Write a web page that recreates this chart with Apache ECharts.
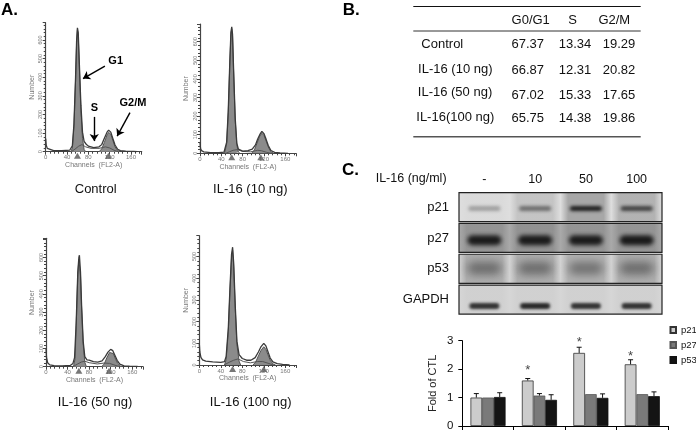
<!DOCTYPE html>
<html><head><meta charset="utf-8">
<style>html,body{margin:0;padding:0;background:#fff}#c{width:696px;height:432px}</style>
<script src="https://cdn.jsdelivr.net/npm/echarts@6/dist/echarts.min.js"></script>
</head><body><div id="c"></div>
<script>
// ---------- Panel A: flow cytometry histograms [channel, count] ----------
const panelNames = ['Control', 'IL-16 (10 ng)', 'IL-16 (50 ng)', 'IL-16 (100 ng)'];
const controlEnvelope = [[0,70],[1,35],[3,18],[6,10],[15,6],[30,5],[45,8],[48,14],[50,32],[53,150],[56,400],[58,600],[59.5,665],[61,640],[63,480],[66,250],[69,105],[72,55],[76,40],[80,30],[90,22],[100,26],[105,38],[110,72],[115,105],[118,116],[122,105],[126,70],[130,36],[135,13],[140,6],[150,3],[165,1],[172,0]];
const controlG1 = [[47,0],[50,20],[53,135],[56,385],[58,590],[59.5,655],[61,625],[63,465],[66,225],[69,70],[72,12],[75,0]];
const controlG2 = [[100,0],[105,15],[110,50],[115,90],[118,104],[122,94],[126,60],[130,26],[135,6],[140,0]];
const controlS = [[48,0],[55,14],[62,30],[68,38],[75,26],[85,18],[100,18],[112,26],[120,20],[128,8],[136,0]];
const d10Envelope = [[0,60],[1,25],[3,14],[7,8],[20,4],[35,3],[45,6],[47,14],[50,60],[53,230],[56,500],[58,650],[59.5,680],[61,640],[63,450],[66,190],[69,55],[72,22],[80,12],[90,14],[98,22],[104,45],[108,75],[112,100],[116,118],[120,105],[124,75],[128,42],[133,15],[140,5],[150,2],[165,0]];
const d10G1 = [[46,0],[50,50],[53,220],[56,490],[58,640],[59.5,670],[61,630],[63,440],[66,180],[69,45],[72,6],[75,0]];
const d10G2 = [[97,0],[102,18],[107,55],[112,92],[116,108],[120,96],[124,66],[128,34],[133,8],[138,0]];
const d10S = [[48,0],[55,8],[62,16],[70,20],[80,10],[95,8],[108,16],[115,14],[125,5],[134,0]];
const d50Envelope = [[0,100],[1,50],[3,22],[7,10],[15,6],[30,5],[45,7],[50,18],[53,50],[56,240],[59,520],[61,600],[62,612],[64,520],[66,340],[69,140],[72,55],[76,38],[80,36],[88,28],[96,25],[104,32],[110,55],[115,80],[120,95],[124,88],[128,62],[132,35],[137,14],[145,5],[155,3],[170,1]];
const d50G1 = [[51,0],[54,45],[56,225],[59,505],[61,590],[62,600],[64,505],[66,325],[69,125],[72,25],[75,0]];
const d50G2 = [[103,0],[108,14],[113,50],[118,78],[121,84],[125,72],[129,42],[133,18],[138,4],[142,0]];
const d50S = [[50,0],[58,14],[66,26],[72,30],[80,22],[95,15],[108,20],[118,18],[128,8],[138,0]];
const d100Envelope = [[0,100],[1,60],[3,35],[6,24],[12,18],[25,14],[40,12],[47,16],[50,40],[54,170],[57,350],[60,510],[62,543],[64,470],[67,270],[70,110],[74,48],[80,30],[88,22],[96,22],[104,34],[110,60],[115,85],[120,100],[124,88],[128,60],[132,32],[137,14],[145,6],[155,3],[168,0]];
const d100G1 = [[47,0],[50,25],[54,155],[57,335],[60,495],[62,530],[64,455],[67,255],[70,95],[74,18],[77,0]];
const d100G2 = [[100,0],[105,14],[110,42],[115,68],[120,84],[124,72],[128,46],[132,22],[137,5],[142,0]];
const d100S = [[46,0],[55,12],[64,22],[72,28],[82,16],[95,10],[108,16],[118,16],[128,8],[138,0]];
const controlMarks = [[59.5,0],[117.5,0]];
const d10Marks = [[59.5,0],[114,0]];
const d50Marks = [[61,0],[117,0]];
const d100Marks = [[62,0],[120,0]];
const yMaxima = [693, 695, 705, 596];

// ---------- Panel B: table ----------
const tableHeader = ['G0/G1', 'S', 'G2/M'];
const tableRows = ['Control', 'IL-16 (10 ng)', 'IL-16 (50 ng)', 'IL-16(100 ng)'];
const g0g1Values = ['67.37', '66.87', '67.02', '65.75'];
const sValues = ['13.34', '12.31', '15.33', '14.38'];
const g2mValues = ['19.29', '20.82', '17.65', '19.86'];

// ---------- Panel C: blots ----------
const laneLabels = ['-', '10', '50', '100'];
const blotRows = ['p21', 'p27', 'p53', 'GAPDH'];
const p21Band = [0.3, 0.5, 0.95, 0.72];
const p27Band = [0.95, 0.95, 0.95, 0.96];
const p53Band = [0.42, 0.42, 0.4, 0.42];
const gapdhBand = [0.85, 0.9, 0.85, 0.85];
const p21Haze = [0.02, 0.14, 0.3, 0.24];
const p27Haze = [0.16, 0.18, 0.16, 0.16];
const p53Haze = [0.22, 0.22, 0.2, 0.22];
const gapdhHaze = [0.03, 0.03, 0.03, 0.03];

// ---------- Panel C: fold-change bars ----------
const foldCategories = ['-', '10', '50', '100'];
const p21Fold = [1.0, 1.6, 2.57, 2.17];
const p27Fold = [1.0, 1.07, 1.12, 1.12];
const p53Fold = [1.02, 0.92, 0.99, 1.05];
const p21Err = [0.14, 0.07, 0.2, 0.16];
const p27Err = [0, 0.07, 0, 0];
const p53Err = [0.15, 0.18, 0.14, 0.15];
const starHeights = [null, 1.95, 2.93, 2.45];

const FONT = '"Liberation Sans", Arial, sans-serif';
const panels = [
  {env:controlEnvelope,g1:controlG1,g2:controlG2,s:controlS,marks:controlMarks,l:45.7,r:141.7,t:22.7,b:151.7},
  {env:d10Envelope,g1:d10G1,g2:d10G2,s:d10S,marks:d10Marks,l:200,r:296,t:24,b:153.3},
  {env:d50Envelope,g1:d50G1,g2:d50G2,s:d50S,marks:d50Marks,l:46,r:143,t:238.3,b:366.7},
  {env:d100Envelope,g1:d100G1,g2:d100G2,s:d100S,marks:d100Marks,l:199.3,r:296,t:235.7,b:365}
];
const grid = [], xAxis = [], yAxis = [], series = [];
const histGray = '#8b8b8b', axisGray = '#444', labelGray = '#777';
panels.forEach((p, i) => {
  grid.push({left:p.l, top:p.t, width:p.r-p.l, height:p.b-p.t});
  xAxis.push({gridIndex:i, type:'value', min:0, max:180, interval:40,
    name:'Channels  (FL2-A)', nameLocation:'middle', nameGap:9,
    nameTextStyle:{fontSize:7, color:labelGray, fontFamily:FONT},
    axisLine:{lineStyle:{color:axisGray,width:1.2}},
    axisTick:{show:true,length:3,lineStyle:{color:axisGray}},
    minorTick:{show:true,splitNumber:5,length:2,lineStyle:{color:axisGray}},
    axisLabel:{fontSize:6,color:labelGray,margin:3,fontFamily:FONT,showMaxLabel:false},
    splitLine:{show:false}, minorSplitLine:{show:false}});
  yAxis.push({gridIndex:i, type:'value', min:0, max:yMaxima[i], interval:100,
    name:'Number', nameLocation:'middle', nameGap:10,
    nameTextStyle:{fontSize:7, color:labelGray, fontFamily:FONT},
    axisLine:{show:true,lineStyle:{color:axisGray,width:1.2}},
    axisTick:{show:true,length:3,lineStyle:{color:axisGray}},
    minorTick:{show:true,splitNumber:5,length:2,lineStyle:{color:axisGray}},
    axisLabel:{fontSize:5.5,color:labelGray,rotate:90,margin:2,fontFamily:FONT,showMaxLabel:false,
      formatter:v=>v>600?'':String(v)},
    splitLine:{show:false}, minorSplitLine:{show:false}});
  const line = (data, extra) => Object.assign({type:'line', xAxisIndex:i, yAxisIndex:i, data,
    symbol:'none', silent:true, lineStyle:{color:'#555',width:1}}, extra);
  series.push(line(p.g1,{areaStyle:{color:histGray,opacity:1},z:2}));
  series.push(line(p.g2,{areaStyle:{color:histGray,opacity:1},z:2}));
  series.push(line(p.s,{lineStyle:{color:'#555',width:1},z:3}));
  const env = line(p.env,{lineStyle:{color:'#3a3a3a',width:1.3},z:4});
  if (i === 0) {
    env.markLine = {silent:true, symbol:['none','arrow'], symbolSize:7, animation:false,
      lineStyle:{color:'#000',width:1.4,type:'solid'}, label:{show:false},
      data:[
        [{coord:[111,460]},{coord:[70,393]}],
        [{coord:[91,187]},{coord:[91,57]}],
        [{coord:[158,210]},{coord:[134,84]}]
      ]};
  }
  series.push(env);
  series.push({type:'scatter', xAxisIndex:i, yAxisIndex:i, data:p.marks, symbol:'triangle',
    symbolSize:[7,6], symbolOffset:[0,4], clip:false, silent:true,
    itemStyle:{color:'#555'}, z:5});
});

// Blot grid (index 4)
grid.push({left:459, top:191.7, width:203, height:123.3});
xAxis.push({gridIndex:4, type:'category', position:'top', data:laneLabels,
  axisLine:{show:false}, axisTick:{show:false},
  axisLabel:{fontSize:12.5,color:'#111',margin:6,fontFamily:FONT}});
yAxis.push({gridIndex:4, type:'category', inverse:true, data:blotRows,
  axisLine:{show:false}, axisTick:{show:false},
  axisLabel:{fontSize:13,color:'#111',margin:10,fontFamily:FONT}});

const rowBg = ['#dedede','#a9a9a9','#d2d2d2','#d6d6d6'];
const bandGeom = [
  {y:0.05,h:5,w:32,blur:3.5},{y:0.08,h:10,w:34,blur:4},{y:-0.02,h:13,w:34,blur:9},{y:0.22,h:6,w:30,blur:3}
];
const rowRect = (api,row)=>{
  const c=api.coord([0,row]), cw=api.size([1,0])[0], bh=api.size([0,1])[1]-1.8;
  return {x:c[0]-cw/2,y:c[1]-bh/2,width:cw*4,height:bh};
};
series.push({type:'custom', xAxisIndex:4, yAxisIndex:4, silent:true, z:1,
  data:blotRows.map((r,i)=>[0,i]),
  renderItem(params, api){
    const row = api.value(1);
    return {type:'rect', shape:rowRect(api,row), style:{fill:rowBg[row]}};
  }});
const bands = [p21Band,p27Band,p53Band,gapdhBand];
const hazes = [p21Haze,p27Haze,p53Haze,gapdhHaze];
const blotCells = [];
bands.forEach((b,r)=>b.forEach((d,l)=>blotCells.push([l,r,d,hazes[r][l]])));
const OFF = 2000; // the band shape sits off-canvas so that only its blurred shadow shows
series.push({type:'custom', xAxisIndex:4, yAxisIndex:4, silent:true, z:2, data:blotCells,
  renderItem(params, api){
    const l=api.value(0), r=api.value(1), d=api.value(2), hz=api.value(3);
    const c=api.coord([l,r]);
    const cw=api.size([1,0])[0], ch=api.size([0,1])[1]-1.8;
    const g=bandGeom[r];
    const hazeFill=new echarts.graphic.LinearGradient(0,0,1,0,[
      {offset:0,color:'rgba(40,40,40,0)'},{offset:0.15,color:'rgba(40,40,40,'+hz+')'},
      {offset:0.85,color:'rgba(40,40,40,'+hz+')'},{offset:1,color:'rgba(40,40,40,0)'}]);
    return {type:'group',children:[
      {type:'rect',shape:{x:c[0]-cw/2,y:c[1]-ch/2,width:cw,height:ch},style:{fill:hazeFill}},
      {type:'rect',shape:{x:c[0]-g.w/2-OFF,y:c[1]+g.y*ch-g.h/2,width:g.w,height:g.h,r:g.h/2},
       style:{fill:'#000',shadowBlur:g.blur,shadowOffsetX:OFF,shadowColor:'rgba(20,20,20,'+d+')'}}
    ]};
  }});
series.push({type:'custom', xAxisIndex:4, yAxisIndex:4, silent:true, z:3,
  data:blotRows.map((r,i)=>[0,i]),
  renderItem(params, api){
    return {type:'rect',shape:rowRect(api,api.value(1)),
      style:{fill:'none',stroke:'#222',lineWidth:1.2}};
  }});

// Fold-change bars (index 5)
grid.push({left:462.3, top:340.7, width:205.7, height:85.3});
xAxis.push({gridIndex:5, type:'category', data:foldCategories,
  axisLine:{lineStyle:{color:'#000'}}, axisTick:{show:true,alignWithLabel:false,length:4,lineStyle:{color:'#000'}},
  axisLabel:{show:false}});
yAxis.push({gridIndex:5, type:'value', min:0, max:3, interval:1,
  name:'Fold of CTL', nameLocation:'middle', nameGap:24,
  nameTextStyle:{fontSize:11,color:'#222',fontFamily:FONT},
  axisLine:{show:true,lineStyle:{color:'#000'}}, axisTick:{show:true,length:4,lineStyle:{color:'#000'}},
  axisLabel:{fontSize:11.5,color:'#111',margin:9,fontFamily:FONT}, splitLine:{show:false}});
const BAR_W = 11.7;
const barDefs = [
  {name:'p21',data:p21Fold,err:p21Err,color:'#cccccc',border:'#333'},
  {name:'p27',data:p27Fold,err:p27Err,color:'#7a7a7a',border:'#555'},
  {name:'p53',data:p53Fold,err:p53Err,color:'#141414',border:'#111'}
];
barDefs.forEach(b=>series.push({type:'bar',name:b.name,xAxisIndex:5,yAxisIndex:5,data:b.data,
  barWidth:BAR_W,barGap:'0%',silent:true,z:2,
  itemStyle:{color:b.color,borderColor:b.border,borderWidth:0.8}}));
barDefs.forEach((b,si)=>series.push({type:'custom',xAxisIndex:5,yAxisIndex:5,silent:true,z:3,
  data:b.data.map((v,i)=>[i,v,v+b.err[i]]),
  renderItem(params, api){
    const x=api.coord([api.value(0),0])[0]+(si-1)*BAR_W;
    const y0=api.coord([0,api.value(1)])[1], y1=api.coord([0,api.value(2)])[1];
    if (Math.abs(y0-y1)<0.5) return null;
    const st={stroke:'#111',lineWidth:1,fill:'none'};
    return {type:'group',children:[
      {type:'line',shape:{x1:x,y1:y0,x2:x,y2:y1},style:st},
      {type:'line',shape:{x1:x-2.5,y1:y1,x2:x+2.5,y2:y1},style:st}]};
  }}));
series.push({type:'scatter',xAxisIndex:5,yAxisIndex:5,silent:true,z:4,symbolSize:0,clip:false,
  data:starHeights.map((v,i)=>v===null?null:[i,v]).filter(Boolean),
  label:{show:true,formatter:'*',position:'inside',offset:[-BAR_W,0],fontSize:13,color:'#111',fontFamily:FONT}});

// Text and rules
const T=(text,x,y,size,opt={})=>({type:'text',x,y,silent:true,z:10,style:Object.assign({text,
  fontSize:size,fontFamily:FONT,fill:'#111',align:'center',verticalAlign:'middle'},opt)});
const R=(x1,x2,y,w,c)=>({type:'line',silent:true,z:10,shape:{x1,y1:y,x2,y2:y},style:{stroke:c,lineWidth:w}});
const graphic=[
  T('A.',1,10,17,{align:'left',fontWeight:'bold',fill:'#000'}),
  T('B.',342.7,10,17,{align:'left',fontWeight:'bold',fill:'#000'}),
  T('C.',342,170,17,{align:'left',fontWeight:'bold',fill:'#000'}),
  T('G1',115.7,60.7,11,{fontWeight:'bold',fill:'#000'}),
  T('S',94.3,108,11,{fontWeight:'bold',fill:'#000'}),
  T('G2/M',133,103,11,{fontWeight:'bold',fill:'#000'}),
  T(panelNames[0],95.7,189,13),
  T(panelNames[1],250.3,189,13),
  T(panelNames[2],95,402.7,13),
  T(panelNames[3],250.7,402.7,13),
  R(413.3,640.7,6.5,1,'#111'),
  R(413.3,640.7,31,1,'#333'),
  R(413.3,640.7,136.7,1.6,'#555'),
  T('IL-16 (ng/ml)',375.7,179,12.5,{align:'left'})
];
[530.7,572.7,614.3].forEach((x,i)=>graphic.push(T(tableHeader[i],x,20,13)));
const rowLabelY=[44.3,69.3,92.7,117.7], rowValueY=[44.3,70.3,95.7,118.3], rowLabelX=[442.3,455.3,455,455.3];
tableRows.forEach((r,i)=>{
  graphic.push(T(r,rowLabelX[i],rowLabelY[i],13));
  graphic.push(T(g0g1Values[i],527.7,rowValueY[i],13));
  graphic.push(T(sValues[i],575,rowValueY[i],13));
  graphic.push(T(g2mValues[i],619,rowValueY[i],13));
});

const chart=echarts.init(document.getElementById('c'),null,{renderer:'canvas'});
chart.setOption({
  animation:false, backgroundColor:'#fff', textStyle:{fontFamily:FONT},
  grid, xAxis, yAxis, series, graphic,
  legend:{data:['p21','p27','p53'],orient:'vertical',left:669.5,top:325,itemWidth:5.5,itemHeight:6,itemGap:5,
    icon:'rect',selectedMode:false,padding:0,textStyle:{fontSize:9.5,color:'#111',fontFamily:FONT}}
});
</script></body></html>
